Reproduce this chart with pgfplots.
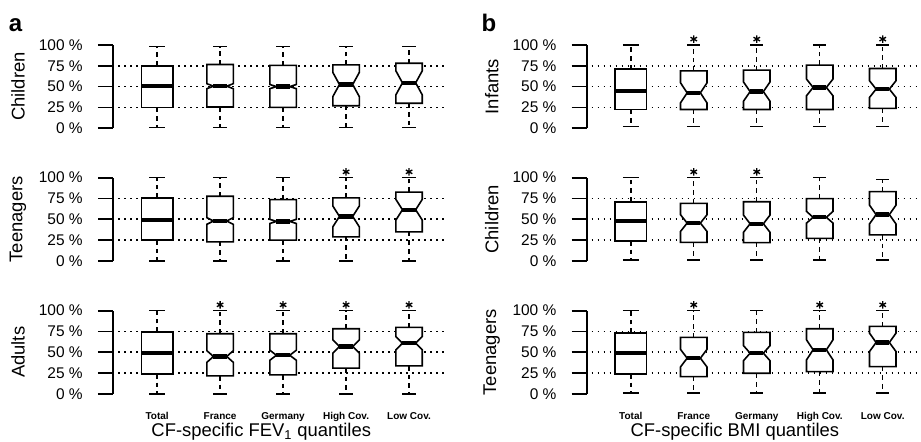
\documentclass[border=0pt]{standalone}
\usepackage{pgfplots}
\usepackage{pgfplotstable}
\pgfplotsset{compat=1.18}
\usepackage{fontspec}
\setmainfont{Liberation Sans}

% x hw nf lw q1 nlo med nhi q3 uw star
\pgfplotstableread{
x hw nf lw q1 nlo med nhi q3 uw star
1 0.25 1 1 25 50.5 50.5 50.5 75 98 0
2 0.21 0.5 1 25.5 47.5 50.5 53.5 76.5 98 0
3 0.21 0.5 1 25 47.5 50 52.5 75.5 98 0
4 0.21 0.5 1 27 38 52.5 67 76 98 0
5 0.21 0.5 1 30 40 54.5 69 78 98 0
}\aChildren
\pgfplotstableread{
x hw nf lw q1 nlo med nhi q3 uw star
1 0.25 1 0 25 49.4 49.4 49.4 75.7 100 0
2 0.21 0.5 0 23 44 48 52 77.7 100 0
3 0.21 0.5 0 25 45 47.5 50 73.7 100 0
4 0.21 0.5 0 29 41 53.5 66 75.7 100 1
5 0.21 0.5 0 35 49 61.5 74 82.6 100 1
}\aTeen
\pgfplotstableread{
x hw nf lw q1 nlo med nhi q3 uw star
1 0.25 1 0 24 49.5 49.5 49.5 74.3 100 0
2 0.21 0.5 0 21.7 38 45 52 72.3 100 1
3 0.21 0.5 0 22.9 40.5 46.5 52.5 72.3 100 1
4 0.21 0.5 0 31 49 57 65 78.3 100 1
5 0.21 0.5 0 33.7 53 61 69 80 100 1
}\aAdult
\pgfplotstableread{
x hw nf lw q1 nlo med nhi q3 uw star
1 0.25 1 2 22.5 45 45 45 70.9 100 0
2 0.21 0.5 2 22.5 30.5 42.5 54.5 68.9 100 1
3 0.21 0.5 2 22.5 32.5 44 55.5 69.7 100 1
4 0.21 0.5 2 22.5 39 49 59 75.8 100 0
5 0.21 0.5 2 23.8 37 47 57 71.7 100 1
}\bInfant
\pgfplotstableread{
x hw nf lw q1 nlo med nhi q3 uw star
1 0.25 1 1 24 47.6 47.6 47.6 71.1 100 0
2 0.21 0.5 1 22.4 35.5 45.5 55.5 69.1 100 1
3 0.21 0.5 1 22 34.5 44.7 55 71.1 100 1
4 0.21 0.5 1 27.2 45.5 52.4 59.5 74.8 100 0
5 0.21 0.5 1 31.3 44.5 55.7 67 83.3 98 0
}\bChildren
\pgfplotstableread{
x hw nf lw q1 nlo med nhi q3 uw star
1 0.25 1 1 24.1 49 49 49 73.1 100 0
2 0.21 0.5 1 20.9 32.5 43 53.5 67.9 100 1
3 0.21 0.5 1 24.9 40 49 58 73.9 100 0
4 0.21 0.5 1 26.9 41 53 65 78.3 100 1
5 0.21 0.5 1 32.9 51 61.8 73 81.1 100 1
}\bTeen

\pgfplotsset{
  gridline/.style={black, line width=1.3pt, dash pattern=on 1.2pt off 3.3pt},
  axisline/.style={black, line width=1.3pt},
  whisk/.style={black, line width=1.1pt, dash pattern=on 3.5pt off 3pt},
  capline/.style={black, line width=1.2pt},
  boxline/.style={black, line width=1.2pt, fill=white, line join=miter},
  medline/.style={black, line width=3.2pt},
  starmark/.style={black, only marks, mark=asterisk, mark size=2.8pt, mark options={line width=1pt}},
  panel/.style={
    scale only axis, width=250.4pt, height=62.5pt,
    xmin=0.3, xmax=5.6, ymin=0, ymax=100, clip=false,
    axis y line*=left, axis x line*=bottom,
    axis line style={draw=none},
    ytick={0,25,50,75,100},
    yticklabels={0 \%,25 \%,50 \%,75 \%,100 \%},
    tick align=outside,
    major tick length=11.25pt,
    ytick style={line width=1.3pt, black},
    xtick={1,2,3,4,5}, xtick style={draw=none},
    xticklabels={},
    yticklabel style={font=\fontsize{11.6}{13}\selectfont, anchor=east, inner sep=0pt, xshift=-11.25pt},
    ylabel style={font=\fontsize{13.8}{15}\selectfont, at={(axis description cs:-0.2845,0.5)}, anchor=center},
  },
  bottom/.style={
    xticklabels={Total,France,Germany,High Cov.,Low Cov.},
    xticklabel style={font=\bfseries\fontsize{7.5}{9}\selectfont, anchor=base, inner sep=0pt, yshift=-8pt},
    xlabel style={font=\fontsize{13.8}{15}\selectfont, at={(axis description cs:0.444,0)}, anchor=base, yshift=-32pt},
  },
}

\newcommand\drawpanel[1]{%
  \addplot[gridline] coordinates {(0.38,25) (5.6,25)};
  \addplot[gridline] coordinates {(0.38,50) (5.6,50)};
  \addplot[gridline] coordinates {(0.38,75) (5.6,75)};
  \addplot[axisline] coordinates {(0.3,0) (0.3,100)};
  \pgfplotsforeachungrouped \r in {0,...,4}{%
    \pgfplotstablegetelem{\r}{x}\of#1\edef\bx{\pgfplotsretval}%
    \pgfplotstablegetelem{\r}{hw}\of#1\edef\bhw{\pgfplotsretval}%
    \pgfplotstablegetelem{\r}{nf}\of#1\edef\bnf{\pgfplotsretval}%
    \pgfplotstablegetelem{\r}{lw}\of#1\edef\blw{\pgfplotsretval}%
    \pgfplotstablegetelem{\r}{q1}\of#1\edef\bqa{\pgfplotsretval}%
    \pgfplotstablegetelem{\r}{nlo}\of#1\edef\bnlo{\pgfplotsretval}%
    \pgfplotstablegetelem{\r}{med}\of#1\edef\bmed{\pgfplotsretval}%
    \pgfplotstablegetelem{\r}{nhi}\of#1\edef\bnhi{\pgfplotsretval}%
    \pgfplotstablegetelem{\r}{q3}\of#1\edef\bqc{\pgfplotsretval}%
    \pgfplotstablegetelem{\r}{uw}\of#1\edef\buw{\pgfplotsretval}%
    \pgfplotstablegetelem{\r}{star}\of#1\edef\bstar{\pgfplotsretval}%
    \pgfmathsetmacro\xl{\bx-\bhw}%
    \pgfmathsetmacro\xr{\bx+\bhw}%
    \pgfmathsetmacro\wl{\bx-\bnf*\bhw}%
    \pgfmathsetmacro\wr{\bx+\bnf*\bhw}%
    \pgfmathsetmacro\capl{\bx-0.5*\bhw}%
    \pgfmathsetmacro\capr{\bx+0.5*\bhw}%
    \addplot[whisk] coordinates {(\bx,\bqc) (\bx,\buw)};
    \addplot[whisk] coordinates {(\bx,\bqa) (\bx,\blw)};
    \addplot[capline] coordinates {(\capl,\buw) (\capr,\buw)};
    \addplot[capline] coordinates {(\capl,\blw) (\capr,\blw)};
    \addplot[boxline] coordinates {(\xl,\bqa) (\xr,\bqa) (\xr,\bnlo) (\wr,\bmed) (\xr,\bnhi) (\xr,\bqc) (\xl,\bqc) (\xl,\bnhi) (\wl,\bmed) (\xl,\bnlo)} -- cycle;
    \addplot[medline] coordinates {(\wl,\bmed) (\wr,\bmed)};
    \ifnum\bstar=1 \addplot[starmark] coordinates {(\bx,107)};\fi
  }%
}

\begin{document}
\begin{tikzpicture}
\useasboundingbox (0,0) rectangle (690.75pt,331.5pt);
\node[anchor=base west, inner sep=0pt, font=\bfseries\fontsize{18}{20}\selectfont] at (6.5pt,307.7pt) {a};
\node[anchor=base west, inner sep=0pt, font=\bfseries\fontsize{18}{20}\selectfont] at (361pt,307.7pt) {b};

\begin{axis}[panel, at={(84.75pt,235.3pt)}, anchor=south west, ylabel={Children}]
\drawpanel{\aChildren}
\end{axis}
\begin{axis}[panel, at={(84.75pt,135.75pt)}, anchor=south west, ylabel={Teenagers}]
\drawpanel{\aTeen}
\end{axis}
\begin{axis}[panel, bottom, at={(84.75pt,36pt)}, anchor=south west, ylabel={Adults},
  xlabel={CF-specific FEV\textsubscript{1} quantiles}]
\drawpanel{\aAdult}
\end{axis}

\begin{axis}[panel, at={(440pt,235.3pt)}, anchor=south west, ylabel={Infants}]
\drawpanel{\bInfant}
\end{axis}
\begin{axis}[panel, at={(440pt,135.75pt)}, anchor=south west, ylabel={Children}]
\drawpanel{\bChildren}
\end{axis}
\begin{axis}[panel, bottom, at={(440pt,36pt)}, anchor=south west, ylabel={Teenagers},
  xlabel={CF-specific BMI quantiles}]
\drawpanel{\bTeen}
\end{axis}
\end{tikzpicture}
\end{document}
